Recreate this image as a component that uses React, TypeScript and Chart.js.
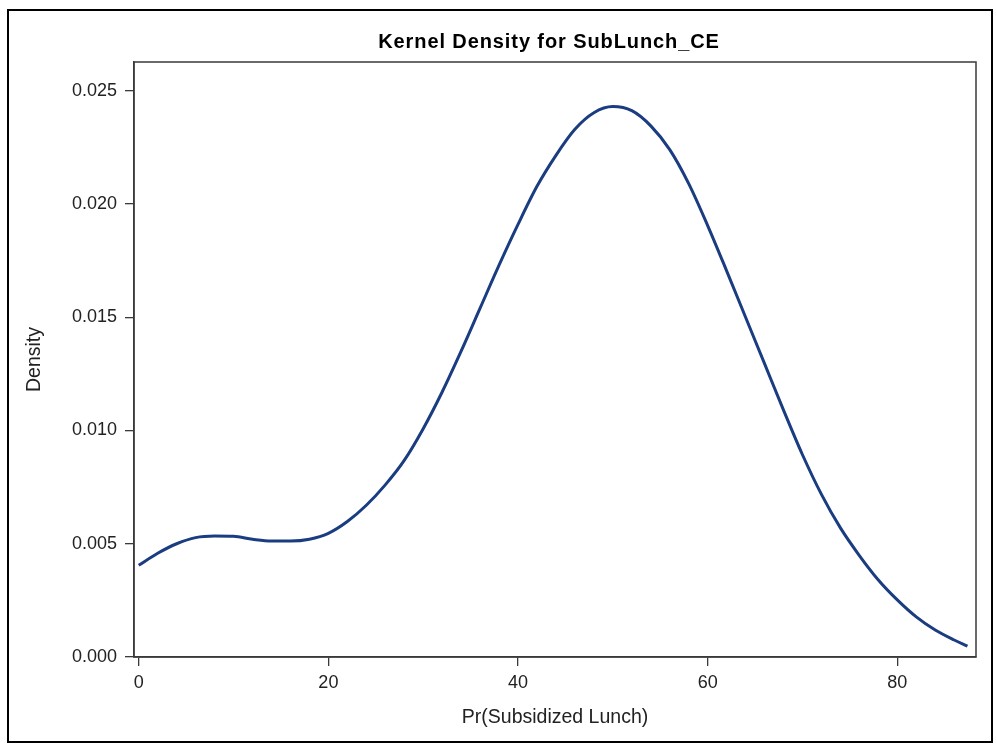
import React, { useEffect, useRef } from 'react';
import { Chart, registerables } from 'chart.js';

Chart.register(...registerables);

const xValues = [0, 2, 4, 6, 8, 10, 12, 14, 16, 18, 20, 22, 24, 26, 28, 30, 32, 34, 36, 38, 40, 42, 44, 46, 48, 50, 52, 54, 56, 58, 60, 62, 64, 66, 68, 70, 72, 74, 76, 78, 80, 82, 84, 86, 87.4];
const densityValues = [0.00405, 0.00458, 0.00500, 0.00527, 0.00534, 0.00533, 0.00520, 0.00512, 0.00512, 0.00520, 0.00546, 0.00598, 0.00670, 0.00760, 0.00868, 0.01008, 0.01170, 0.01350, 0.01540, 0.01730, 0.01910, 0.02078, 0.02215, 0.02330, 0.02403, 0.02430, 0.02412, 0.02345, 0.02240, 0.02090, 0.01905, 0.01705, 0.01500, 0.01295, 0.01090, 0.00893, 0.00718, 0.00570, 0.00448, 0.00340, 0.00252, 0.00177, 0.00119, 0.00075, 0.00048];
const xTicks = [0, 20, 40, 60, 80];
const yTicks = [0, 0.005, 0.01, 0.015, 0.02, 0.025];
const titleText = 'Kernel Density for SubLunch_CE';
const xTitle = 'Pr(Subsidized Lunch)';
const yTitle = 'Density';

const FONT = '"Liberation Sans", Arial, sans-serif';

export default function App() {
  const ref = useRef<HTMLCanvasElement>(null);

  useEffect(() => {
    const canvas = ref.current!;
    const framePlugin = {
      id: 'frame',
      beforeDraw(chart: any) {
        const ctx = chart.ctx;
        ctx.save();
        ctx.fillStyle = '#ffffff';
        ctx.fillRect(0, 0, chart.width, chart.height);
        ctx.restore();
      },
      afterDraw(chart: any) {
        const { ctx, chartArea: a } = chart;
        ctx.save();
        ctx.strokeStyle = '#000000';
        ctx.lineWidth = 2;
        ctx.strokeRect(8, 10, 984, 732);
        ctx.strokeStyle = '#3a3a3a';
        ctx.lineWidth = 1.5;
        ctx.strokeRect(a.left, a.top, a.right - a.left, a.bottom - a.top);
        ctx.font = `bold 20px ${FONT}`;
        try { (ctx as any).letterSpacing = '0.9px'; } catch (e) { /* ignore */ }
        ctx.fillStyle = '#000000';
        ctx.textAlign = 'center';
        ctx.textBaseline = 'middle';
        ctx.fillText(titleText, 549, 42);
        ctx.restore();
      },
    };

    const chart = new Chart(canvas, {
      type: 'line',
      data: {
        datasets: [
          {
            data: xValues.map((x, i) => ({ x, y: densityValues[i] })),
            borderColor: '#1a3c80',
            borderWidth: 3,
            pointRadius: 0,
            fill: false,
            cubicInterpolationMode: 'monotone',
          },
        ],
      },
      options: {
        responsive: false,
        animation: false,
        devicePixelRatio: 1,
        layout: { padding: { left: 0, right: 21, top: 62, bottom: 0 } },
        plugins: { legend: { display: false }, tooltip: { enabled: false }, title: { display: false } },
        scales: {
          x: {
            type: 'linear',
            min: -0.5,
            max: 88.3,
            afterBuildTicks: (s: any) => { s.ticks = xTicks.map((v) => ({ value: v })); },
            afterFit: (s: any) => { s.height = 94; },
            grid: { drawOnChartArea: false, drawTicks: true, tickLength: 9, color: '#3a3a3a', lineWidth: 1.3 },
            border: { display: true, color: '#3a3a3a', width: 1.5 },
            ticks: {
              color: '#222',
              font: { family: FONT, size: 18 },
              padding: 6,
              maxRotation: 0,
              callback: (v: any) => String(v),
            },
            title: { display: true, text: xTitle, color: '#222', font: { family: FONT, size: 19.5 }, padding: { top: 0, bottom: 22 } },
          },
          y: {
            type: 'linear',
            min: 0,
            max: 0.02627,
            afterBuildTicks: (s: any) => { s.ticks = yTicks.map((v) => ({ value: v })); },
            afterFit: (s: any) => { s.width = 134; },
            grid: { drawOnChartArea: false, drawTicks: true, tickLength: 9, color: '#3a3a3a', lineWidth: 1.3 },
            border: { display: true, color: '#3a3a3a', width: 1.5 },
            ticks: {
              color: '#222',
              font: { family: FONT, size: 18 },
              padding: 8,
              callback: (v: any) => Number(v).toFixed(3),
            },
            title: { display: true, text: yTitle, color: '#222', font: { family: FONT, size: 19.5 }, padding: { top: 23, bottom: 0 } },
          },
        },
      },
      plugins: [framePlugin],
    } as any);

    return () => chart.destroy();
  }, []);

  return (
    <div style={{ position: 'absolute', left: 0, top: 0, width: 997, height: 751, background: '#fff' }}>
      <canvas ref={ref} width={997} height={751} style={{ display: 'block' }} />
    </div>
  );
}
